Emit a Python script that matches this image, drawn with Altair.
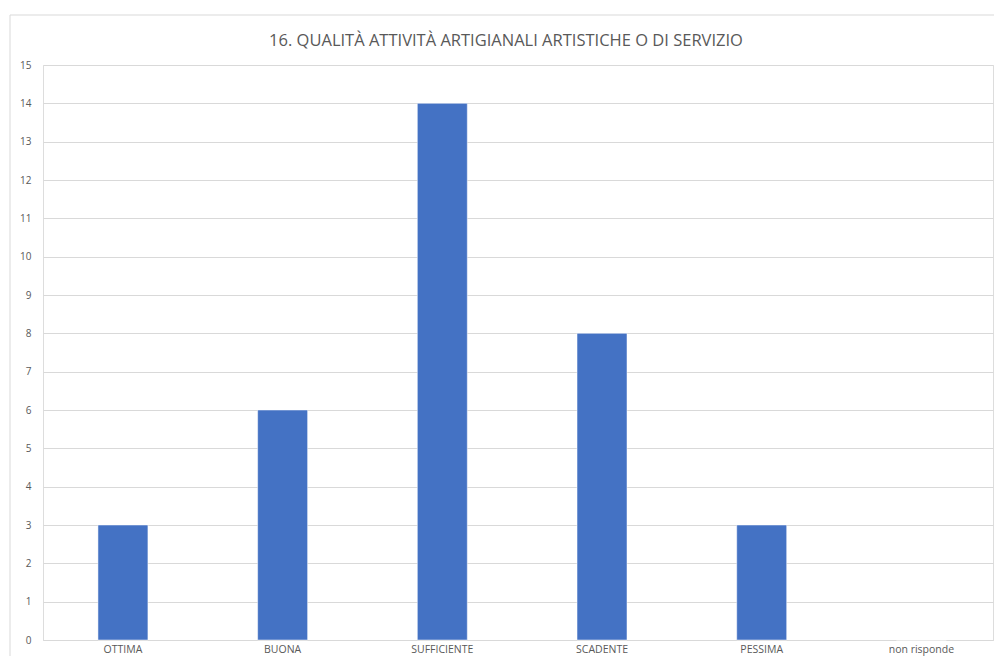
import altair as alt
import pandas as pd

categories = ["OTTIMA", "BUONA", "SUFFICIENTE", "SCADENTE", "PESSIMA", "non risponde"]
values = [3, 6, 14, 8, 3, 0]
y_ticks = list(range(0, 16))
title_text = "16. QUALITÀ ATTIVITÀ ARTIGIANALI ARTISTICHE O DI SERVIZIO"

df = pd.DataFrame({"cat": categories, "val": values})

FONT = "Open Sans"
GREY = "#595959"
GRID = "#d9d9d9"

bars = alt.Chart(df).mark_bar(color="#4472C4", stroke="#ffffff", strokeWidth=0.5).encode(
    x=alt.X("cat:N", sort=categories,
            scale=alt.Scale(paddingInner=0.687, paddingOuter=0.318, align=0.541),
            axis=alt.Axis(title=None, labelAngle=0, ticks=False, domain=True,
                          domainColor=GRID, labelColor=GREY, labelFont=FONT,
                          labelFontSize=10.5, labelPadding=4)),
    y=alt.Y("val:Q", scale=alt.Scale(domain=[0, 15], nice=False),
            axis=alt.Axis(title=None, values=y_ticks, ticks=False, domain=False,
                          grid=True, gridColor=GRID, gridWidth=1,
                          labelColor=GREY, labelFont=FONT, labelFontSize=10,
                          labelPadding=12)),
)

border = alt.Chart(pd.DataFrame({"a": [0]})).mark_rect(
    fillOpacity=0, stroke=GRID, strokeWidth=1
).encode(
    x=alt.value(-33), x2=alt.value(1100), y=alt.value(-50), y2=alt.value(700)
)

title = alt.Chart(pd.DataFrame({"t": [title_text]})).mark_text(
    font=FONT, fontSize=16.5, color=GREY, align="center", baseline="middle"
).encode(
    text="t:N", x=alt.value(463), y=alt.value(-24)
)

chart = alt.layer(border, bars, title).properties(
    width=950, height=575,
    padding={"left": 35, "top": 57, "right": 1, "bottom": 16},
    autosize=alt.AutoSizeParams(type="none"),
).configure_view(stroke=None).configure(background="white")

chart.save("out.html", embed_options={"renderer": "svg", "actions": False})
